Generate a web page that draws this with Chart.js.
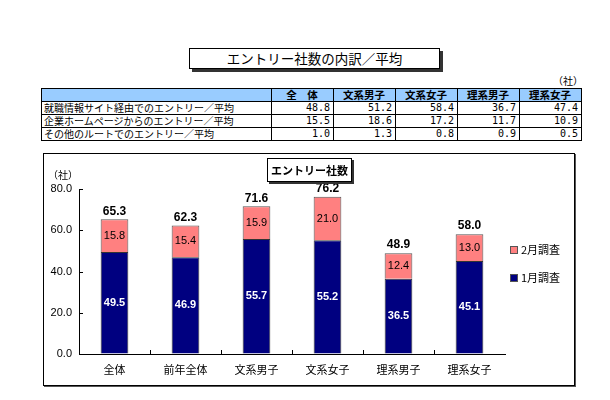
<!DOCTYPE html>
<html>
<head>
<meta charset="utf-8">
<script src="https://cdn.jsdelivr.net/npm/chart.js@4"></script>
<style>
  body { margin: 0; background: #fff; width: 610px; height: 400px; position: relative; overflow: hidden;
         font-family: "Noto Sans CJK JP", sans-serif; }
  .title1 { position: absolute; left: 189px; top: 48px; width: 249px; height: 19px; border: 1px solid #000;
            box-shadow: 3px 3px 0 #333; font-size: 13.5px; line-height: 19px; text-align: center; }
  .unit { position: absolute; left: 553px; top: 75px; font-size: 10px; line-height: 12px; }
  table { position: absolute; left: 41px; top: 88px; border-collapse: collapse; font-size: 10px; table-layout: fixed; }
  td, th { border: 1px solid #000; height: 12px; line-height: 12px; padding: 0 3px 0 2px; white-space: nowrap; overflow: hidden; }
  th { background: #99ccff; font-weight: bold; font-size: 10.5px; text-align: center; width: 56px; }
  th.first { width: 224px; }
  td { text-align: right; font-family: "DejaVu Sans Mono", monospace; }
  td.lbl { text-align: left; font-family: "Noto Sans CJK JP", sans-serif; }
  .box { position: absolute; left: 43px; top: 153px; width: 530px; height: 231px; border: 1px solid #000;
         box-shadow: 1px 1px 0 #555; }
  canvas { position: absolute; left: 44px; top: 154px; }
  .title2 { position: absolute; left: 267px; top: 158px; width: 83px; height: 22px; border: 1px solid #000;
            box-shadow: 2px 2px 0 #333; background: #fff; font-size: 11px; font-weight: bold; line-height: 22px;
            text-align: center; white-space: nowrap; }
</style>
</head>
<body>
<div class="title1">エントリー社数の内訳／平均</div>
<div class="unit">（社）</div>
<table id="tbl"></table>
<div class="box"></div>
<canvas id="c" width="530" height="230"></canvas>
<div class="title2">エントリー社数</div>
<script>
// table data
const tableCols = ['全　体', '文系男子', '文系女子', '理系男子', '理系女子'];
const tableRows = ['就職情報サイト経由でのエントリー／平均', '企業ホームページからのエントリー／平均', 'その他のルートでのエントリー／平均'];
const siteVals = [48.8, 51.2, 58.4, 36.7, 47.4];
const homeVals = [15.5, 18.6, 17.2, 11.7, 10.9];
const otherVals = [1.0, 1.3, 0.8, 0.9, 0.5];

// chart data
const categories = ['全体', '前年全体', '文系男子', '文系女子', '理系男子', '理系女子'];
const janVals = [49.5, 46.9, 55.7, 55.2, 36.5, 45.1];
const febVals = [15.8, 15.4, 15.9, 21.0, 12.4, 13.0];
const totals = [65.3, 62.3, 71.6, 76.2, 48.9, 58.0];
const yTicks = [0, 20, 40, 60, 80];

// build table
const tbl = document.getElementById('tbl');
let html = '<tr><th class="first"></th>' + tableCols.map(c => '<th>' + c + '</th>').join('') + '</tr>';
[siteVals, homeVals, otherVals].forEach((vals, i) => {
  html += '<tr><td class="lbl">' + tableRows[i] + '</td>' + vals.map(v => '<td>' + v.toFixed(1) + '</td>').join('') + '</tr>';
});
tbl.innerHTML = html;

const labelFont = "Liberation Sans, Arial, sans-serif";
const jpFont = '"Noto Sans CJK JP", sans-serif';

const labelsPlugin = {
  id: 'labels',
  afterDatasetsDraw(chart) {
    const ctx = chart.ctx;
    const area = chart.chartArea;
    const xs = chart.scales.x, ys = chart.scales.y;
    ctx.save();
    // inward tick marks
    ctx.strokeStyle = '#000';
    ctx.lineWidth = 1;
    ctx.beginPath();
    yTicks.forEach(v => {
      const y = Math.round(ys.getPixelForValue(v)) + 0.5;
      ctx.moveTo(area.left, y); ctx.lineTo(area.left + 4, y);
    });
    for (let i = 1; i < categories.length; i++) {
      const x = Math.round((xs.getPixelForValue(i - 1) + xs.getPixelForValue(i)) / 2) + 0.5;
      ctx.moveTo(x, area.bottom); ctx.lineTo(x, area.bottom - 4);
    }
    ctx.stroke();

    ctx.textAlign = 'center';
    ctx.textBaseline = 'middle';
    chart.data.datasets.forEach((ds, di) => {
      const meta = chart.getDatasetMeta(di);
      meta.data.forEach((bar, i) => {
        ctx.fillStyle = di === 0 ? '#fff' : '#000';
        ctx.font = (di === 0 ? 'bold ' : '') + '11px ' + labelFont;
        ctx.fillText(ds.data[i].toFixed(1), bar.x, (bar.y + bar.base) / 2);
      });
    });
    const top = chart.getDatasetMeta(1);
    ctx.fillStyle = '#000';
    ctx.font = 'bold 12px ' + labelFont;
    top.data.forEach((bar, i) => {
      ctx.fillText(totals[i].toFixed(1), bar.x, bar.y - 8);
    });
    // unit label
    ctx.font = '10px ' + jpFont;
    ctx.fillText('（社）', area.left - 16, area.top - 14);
    // legend
    const lx = area.right + 5;
    const items = [[chart.data.datasets[1], 96], [chart.data.datasets[0], 124]];
    ctx.textAlign = 'left';
    ctx.font = '11px ' + jpFont;
    items.forEach(([ds, y]) => {
      ctx.fillStyle = ds.backgroundColor;
      ctx.fillRect(lx, y - 4, 8, 8);
      ctx.strokeStyle = '#555';
      ctx.strokeRect(lx + 0.5, y - 3.5, 7, 7);
      ctx.fillStyle = '#000';
      ctx.fillText(ds.label, lx + 11, y);
    });
    ctx.restore();
  }
};

new Chart(document.getElementById('c'), {
  type: 'bar',
  data: {
    labels: categories,
    datasets: [
      { label: '1月調査', data: janVals, backgroundColor: '#000080', borderColor: '#333', borderWidth: 1 },
      { label: '2月調査', data: febVals, backgroundColor: '#ff8080', borderColor: '#555', borderWidth: 1 }
    ]
  },
  options: {
    responsive: false,
    animation: false,
    layout: { padding: { left: 0, right: 69, top: 35, bottom: 0 } },
    datasets: { bar: { barPercentage: 0.39, categoryPercentage: 1 } },
    plugins: { legend: { display: false }, tooltip: { enabled: false } },
    scales: {
      x: {
        stacked: true,
        afterFit(axis) { axis.height = 30; },
        grid: { display: false, drawTicks: false },
        border: { color: '#000' },
        ticks: { color: '#000', padding: 10, font: { size: 11, family: jpFont, lineHeight: 1 } }
      },
      y: {
        stacked: true,
        min: 0, max: 80,
        afterFit(axis) { axis.width = 35; },
        afterBuildTicks(axis) { axis.ticks = yTicks.map(v => ({ value: v })); },
        grid: { drawOnChartArea: false, drawTicks: false },
        border: { color: '#000' },
        ticks: { color: '#000', padding: 7, font: { size: 11, family: labelFont },
                 callback: v => v.toFixed(1) }
      }
    }
  },
  plugins: [labelsPlugin]
});
</script>
</body>
</html>
